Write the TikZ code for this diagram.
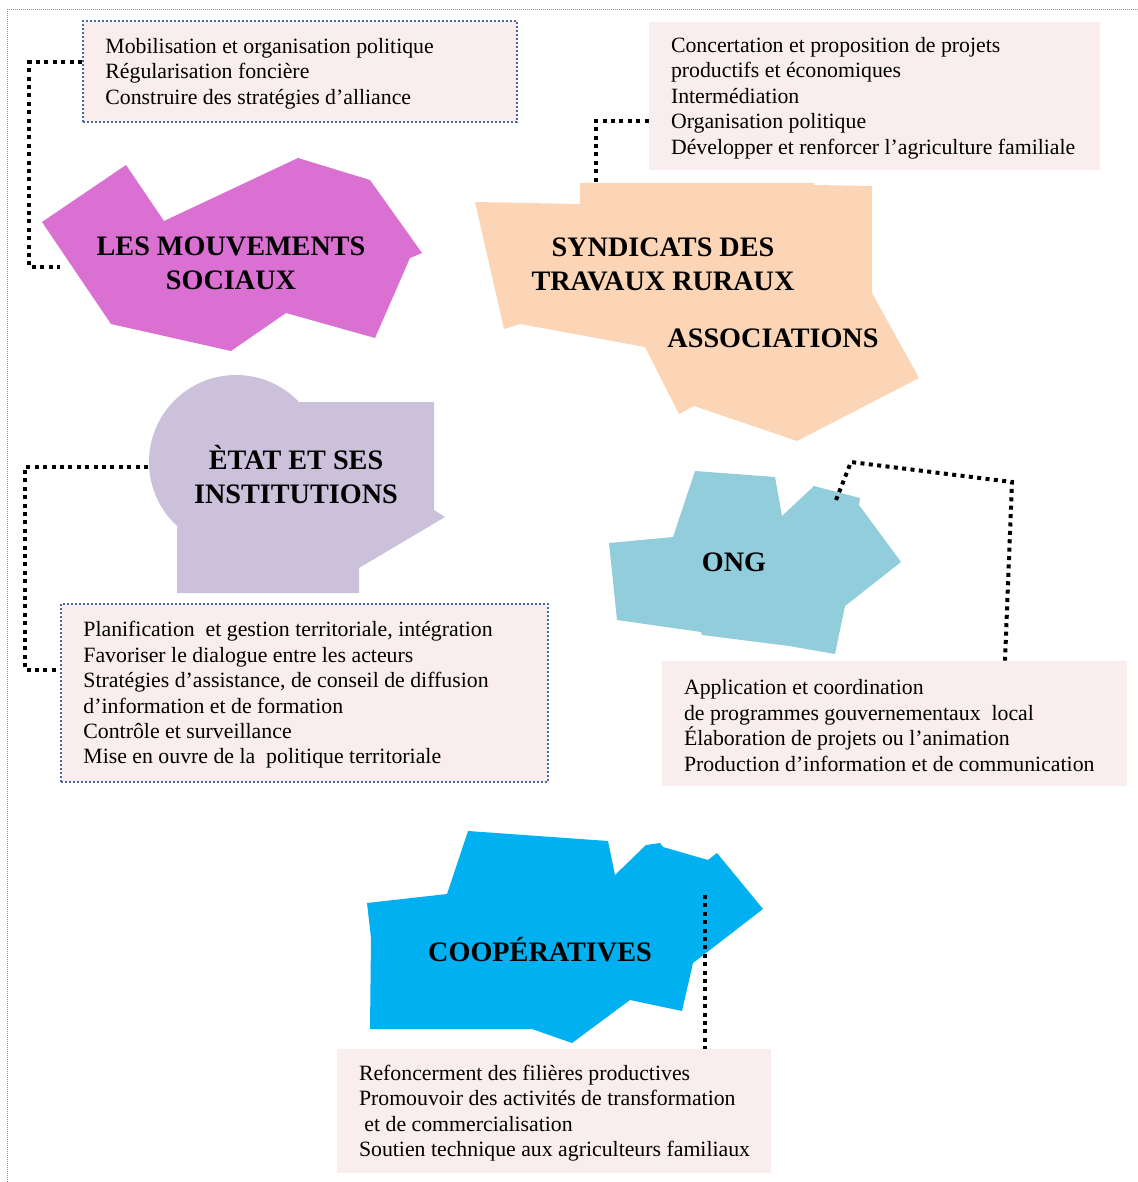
\documentclass[tikz,border=0pt]{standalone}
\usepackage{fontspec}
\setmainfont{Liberation Serif}
\usetikzlibrary{positioning,calc}
\definecolor{Cmvt}{RGB}{218,112,210}
\definecolor{Csyn}{RGB}{251,213,181}
\definecolor{Cetat}{RGB}{204,193,218}
\definecolor{Cong}{RGB}{146,205,220}
\definecolor{Ccoop}{RGB}{0,176,240}
\definecolor{Cbox}{RGB}{249,237,237}
\definecolor{Cboxb}{RGB}{70,105,165}
\definecolor{Cframe}{RGB}{150,150,150}

\begin{document}
\begin{tikzpicture}[
  x=0.5pt, y=-0.5pt,
  infobox/.style = {
    rectangle, fill=Cbox, inner sep=0pt
  },
  dotbox/.style = {
    infobox, draw=Cboxb, line width=1pt, dash pattern=on 1pt off 1pt
  },
  infotext/.style = {
    align=left, inner sep=0pt, yshift=-1pt, font=\fontsize{10.9}{12.7}\selectfont
  },
  titletext/.style = {
    align=center, inner sep=0pt, font=\fontsize{14.1}{17}\selectfont\bfseries
  },
  link/.style  = {black, line width=2pt, dash pattern=on 2pt off 2.2pt},
  frame/.style = {Cframe, line width=0.5pt, dash pattern=on 0.5pt off 0.5pt}
]
\useasboundingbox (0,0) rectangle (1138,1182);

%% ---------- Page frame ----------
\draw[frame] (7,1182) -- (7,10) -- (1138,10);

%% ---------- Actor shapes ----------
\fill[Cmvt] (42,222) -- (126,165) -- (164,221) -- (298,158) -- (370,180)
  -- (422,253) -- (410,258) -- (375,338) -- (286,313) -- (231,351)
  -- (111,324) -- cycle;

\fill[Csyn] (475,202) -- (580,204) -- (580,183) -- (814,183) -- (814,185)
  -- (872,186) -- (872,293) -- (919,378) -- (797,441) -- (694,406)
  -- (679,414) -- (645,347) -- (520,324) -- (504,329) -- cycle;

\fill[Cetat] (236,462) circle[radius=87];
\fill[Cetat] (177,528) -- (177,593) -- (359,593) -- (359,568) -- (445,517)
  -- (434,510) -- (434,402) -- (300,402) -- (236,462) -- cycle;

\fill[Cong] (609,543) -- (673,537) -- (695,471) -- (775,477) -- (782,516)
  -- (814,486) -- (860,498) -- (859,505) -- (901,562) -- (845,606)
  -- (835,654) -- (789,646) -- (702,635) -- (701,632) -- (617,620) -- cycle;

\fill[Ccoop] (367,903) -- (447,894) -- (468,831) -- (608,841) -- (615,875)
  -- (646,845) -- (660,843) -- (663,847) -- (708,860) -- (717,853)
  -- (763,909) -- (693,963) -- (682,1011) -- (630,1000) -- (572,1043)
  -- (532,1029) -- (370,1029) -- (371,938) -- cycle;

%% ---------- Actor names ----------
\node[titletext] (mvt)   at (231,263) {LES MOUVEMENTS\\SOCIAUX};
\node[titletext] (syn)   at (663,264) {SYNDICATS DES\\TRAVAUX RURAUX};
\node[titletext] (assoc) at (773,338) {ASSOCIATIONS};
\node[titletext] (etat)  at (296,475) {ÈTAT ET SES\\INSTITUTIONS};
\node[titletext] (ong)   at (734,562) {ONG};
\node[titletext] (coop)  at (540,950) {COOPÉRATIVES};

%% ---------- Role boxes ----------
\node[dotbox, minimum width=217pt, minimum height=50.5pt] (mvtbox) at (300,71.5) {};
\node[infotext, right=11.5pt of mvtbox.west] (mvttext)
    {Mobilisation et organisation politique\\
     Régularisation foncière\\
     Construire des stratégies d’alliance};

\node[infobox, minimum width=225.5pt, minimum height=74pt] (synbox) at (874.5,96) {};
\node[infotext, right=11pt of synbox.west] (syntext)
    {Concertation et proposition de projets\\
     productifs et économiques\\
     Intermédiation\\
     Organisation politique\\
     Développer et renforcer l’agriculture familiale};

\node[dotbox, minimum width=243.5pt, minimum height=89pt] (etatbox) at (304.5,693) {};
\node[infotext, right=11.5pt of etatbox.west] (etattext)
    {Planification\ \ et gestion territoriale, intégration\\
     Favoriser le dialogue entre les acteurs\\
     Stratégies d’assistance, de conseil de diffusion\\
     d’information et de formation\\
     Contrôle et surveillance\\
     Mise en ouvre de la\ \ politique territoriale};

\node[infobox, minimum width=232.5pt, minimum height=62.5pt] (ongbox) at (894.5,723.5) {};
\node[infotext, right=11pt of ongbox.west] (ongtext)
    {Application et coordination\\
     de programmes gouvernementaux\ \ local\\
     Élaboration de projets ou l’animation\\
     Production d’information et de communication};

\node[infobox, minimum width=217pt, minimum height=62pt] (coopbox) at (554,1111) {};
\node[infotext, right=11pt of coopbox.west] (cooptext)
    {Refoncerment des filières productives\\
     Promouvoir des activités de transformation\\
     \ et de commercialisation\\
     Soutien technique aux agriculteurs familiaux};

%% ---------- Connectors ----------
\coordinate (mvt-in)  at (60,267);
\coordinate (syn-in)  at (596,185);
\coordinate (etat-in) at (148,467);
\coordinate (ong-in)  at (836,500);
\coordinate (ong-a)   at (851,462);
\coordinate (ong-b)   at (1012,482);
\coordinate (coop-in) at (705,895);

\draw[link] ($(mvtbox.west)+(0,-9)$) -- ++(-53,0) |- (mvt-in);
\draw[link] ($(synbox.west)+(0,25)$) -| (syn-in);
\draw[link] (etat-in) -- ++(-123,0) |- ($(etatbox.west)+(0,-23)$);
\draw[link] (ong-in) -- (ong-a) -- (ong-b) -- ($(ongbox.north)+(110.5,0)$);
\draw[link] (coop-in) -- (coopbox.north -| coop-in);

\end{tikzpicture}
\end{document}
